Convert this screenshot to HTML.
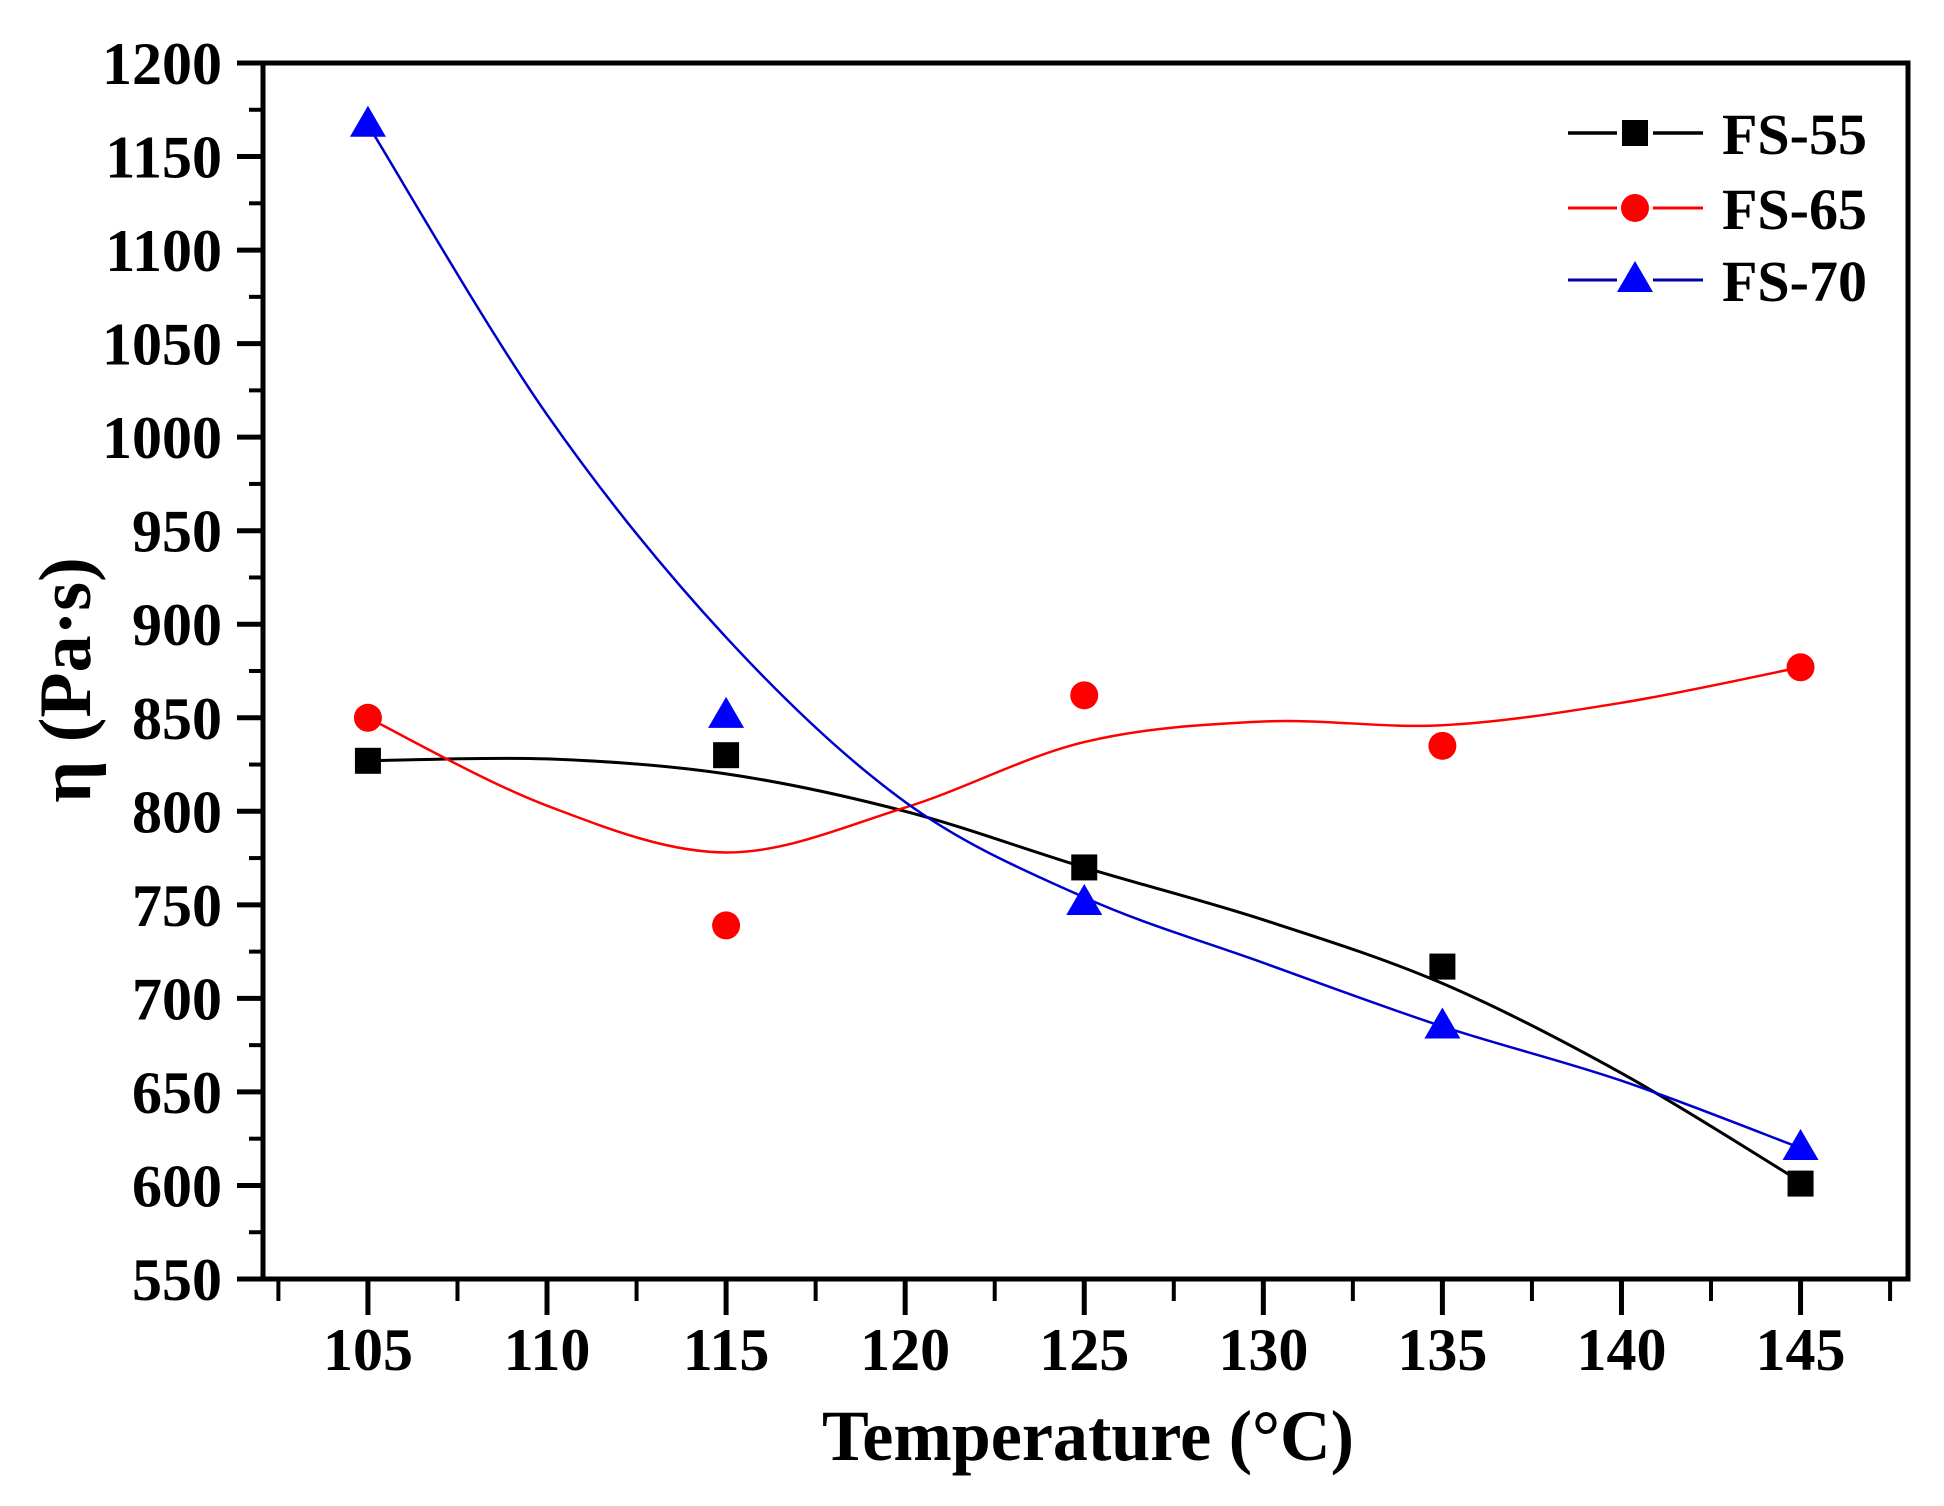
<!DOCTYPE html>
<html><head><meta charset="utf-8"><style>
html,body{margin:0;padding:0;background:#fff;}
svg{display:block;font-family:"Liberation Serif",serif;font-weight:bold;}
</style></head><body>
<svg id="chart" width="1944" height="1506" viewBox="0 0 1944 1506" xmlns="http://www.w3.org/2000/svg">
<g id="axes"></g>
<g id="curves"></g>
<g id="marks"></g>
<g id="legend"></g>
<text x="1088" y="1460" font-size="72" text-anchor="middle" textLength="532" lengthAdjust="spacingAndGlyphs">Temperature (°C)</text>
<text transform="translate(90,680) rotate(-90)" font-size="74" text-anchor="middle">η (Pa·s)</text>
</svg>
<script>
const temps = [105, 115, 125, 135, 145];
const fs55 = [827, 830, 770, 717, 601];
const fs65 = [850, 739, 862, 835, 877];
const fs70 = [1167, 851, 751, 685, 620];
const fitTemps = [105, 110, 115, 120, 125, 130, 135, 140, 145];
const fit55 = [827, 828, 820, 800, 770, 742, 708, 660, 602];
const fit65 = [850, 803, 778, 802, 837, 848, 846, 858, 877];
const fit70 = [1167, 1012, 893, 805, 754, 719, 685, 656, 620];
const yTicks = [550, 600, 650, 700, 750, 800, 850, 900, 950, 1000, 1050, 1100, 1150, 1200];
const xTicks = [105, 110, 115, 120, 125, 130, 135, 140, 145];

const NS = "http://www.w3.org/2000/svg";
const L = 263, R = 1908, T = 63, B = 1279;
const X0 = 102.07, X1 = 148.0, Y0 = 550, Y1 = 1200;
function xs(v){ return L + (v - X0) / (X1 - X0) * (R - L); }
function ys(v){ return B - (v - Y0) / (Y1 - Y0) * (B - T); }
function mk(tag, attrs, parent){ const e = document.createElementNS(NS, tag); for (const k in attrs) e.setAttribute(k, attrs[k]); parent.appendChild(e); return e; }

const axes = document.getElementById('axes');
let fr = mk('rect', {x:L, y:T, width:R-L, height:B-T, fill:'none', stroke:'#000', 'stroke-width':5}, axes);



yTicks.forEach((v, i) => {
  const y = ys(v);
  let t = mk('line', {x1:L-26, x2:L, y1:y, y2:y, stroke:'#000', 'stroke-width':5}, axes);
  
  
  let lb = mk('text', {x:222, y:y+21, 'font-size':60, 'text-anchor':'end'}, axes);
  lb.textContent = v;
  
  
  if (i < yTicks.length - 1) {
    const ym = ys(v + 25);
    let m = mk('line', {x1:L-14, x2:L, y1:ym, y2:ym, stroke:'#000', 'stroke-width':4}, axes);
    
    
  }
});
xTicks.forEach(v => {
  const x = xs(v);
  let t = mk('line', {x1:x, x2:x, y1:B, y2:B+36, stroke:'#000', 'stroke-width':5}, axes);
  
  
  let lb = mk('text', {x:x, y:1370, 'font-size':60, 'text-anchor':'middle'}, axes);
  lb.textContent = v;
  
  
});
for (let v = 102.5; v <= 147.5; v += 5) {
  const x = xs(v);
  let m = mk('line', {x1:x, x2:x, y1:B, y2:B+22, stroke:'#000', 'stroke-width':4}, axes);
  
  
}

function spline(xv, yv){
  const p = xv.map((x, i) => [xs(x), ys(yv[i])]);
  let d = 'M' + p[0][0] + ',' + p[0][1];
  for (let i = 0; i < p.length - 1; i++) {
    const p0 = p[Math.max(0, i-1)], p1 = p[i], p2 = p[i+1], p3 = p[Math.min(p.length-1, i+2)];
    const c1 = [p1[0] + (p2[0]-p0[0])/6, p1[1] + (p2[1]-p0[1])/6];
    const c2 = [p2[0] - (p3[0]-p1[0])/6, p2[1] - (p3[1]-p1[1])/6];
    d += ' C' + c1[0] + ',' + c1[1] + ' ' + c2[0] + ',' + c2[1] + ' ' + p2[0] + ',' + p2[1];
  }
  return d;
}
const curves = document.getElementById('curves');
const series = [
  {name:'fs-55', fit:fit55, pts:fs55, color:'#000', w:3, shape:'square', label:'FS-55'},
  {name:'fs-65', fit:fit65, pts:fs65, color:'#f00', w:2.5, shape:'circle', label:'FS-65'},
  {name:'fs-70', fit:fit70, pts:fs70, color:'#00c', w:2.5, shape:'triangle', label:'FS-70'}
];
series.forEach(s => {
  let p = mk('path', {d:spline(fitTemps, s.fit), fill:'none', stroke:s.color, 'stroke-width':s.w}, curves);
  
  
});
function marker(shape, cx, cy, parent){
  if (shape === 'square') return mk('rect', {x:cx-13, y:cy-13, width:26, height:26, fill:'#000'}, parent);
  if (shape === 'circle') return mk('circle', {cx:cx, cy:cy, r:14, fill:'#f00'}, parent);
  return mk('polygon', {points:(cx)+','+(cy-19)+' '+(cx-18)+','+(cy+12)+' '+(cx+18)+','+(cy+12), fill:'#00f'}, parent);
}
const marks = document.getElementById('marks');
series.forEach(s => {
  s.pts.forEach((v, i) => {
    let m = marker(s.shape, xs(temps[i]), ys(v), marks);
    
    
  });
});
const legend = document.getElementById('legend');
const legY = [133, 208, 280];
series.forEach((s, i) => {
  const y = legY[i];
  let l = mk('line', {x1:1568, x2:1703, y1:y, y2:y, stroke:s.color==='#00c'?'#00a':s.color, 'stroke-width':s.w+0.5}, legend);
  
  
  let bg = mk('rect', {x:1617, y:y-20, width:36, height:40, fill:'#fff'}, legend);
  
  
  let m = marker(s.shape, 1635, y, legend);
  
  
  let t = mk('text', {x:1722, y:y+21, 'font-size':58, textLength:145, lengthAdjust:'spacingAndGlyphs'}, legend);
  t.textContent = s.label;
  
  
});
</script>
</body></html>
